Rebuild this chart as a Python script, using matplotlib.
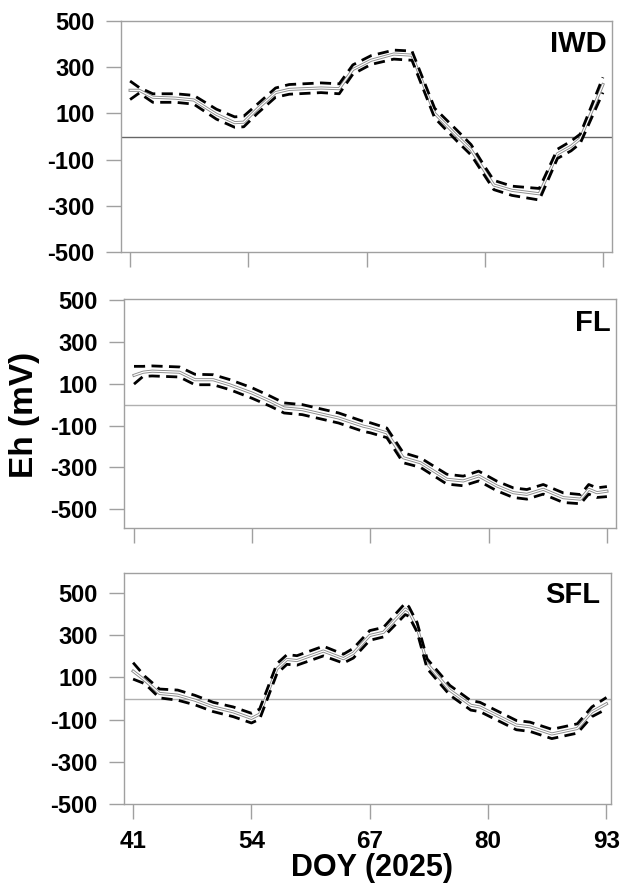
import matplotlib
matplotlib.use("Agg")
import matplotlib.pyplot as plt

plt.rcParams['font.family'] = ['Liberation Sans', 'DejaVu Sans']
plt.rcParams['font.weight'] = 'bold'

# IWD panel
iwd_day = [41, 42, 43.5, 46, 48, 50.5, 52.5, 53.5, 55, 57, 58.5, 62, 64, 65.5, 67.5,
           70, 72, 74.5, 77, 78.5, 80, 81, 83, 86, 88, 89.5, 90.5, 93]
iwd_mean = [200, 200, 170, 166, 158, 96, 60, 62, 120, 190, 204, 210, 207, 290, 330,
            357, 352, 100, 0, -57, -150, -210, -233, -248, -75, -42, -10, 225]
iwd_upper = [240, 212, 185, 185, 178, 118, 85, 88, 140, 210, 225, 232, 228, 310, 350,
             374, 370, 122, 25, -35, -130, -190, -215, -225, -55, -20, 10, 256]
iwd_lower = [160, 188, 148, 148, 140, 75, 40, 42, 100, 170, 183, 190, 185, 270, 312,
             335, 330, 80, -22, -80, -170, -230, -255, -275, -95, -62, -30, 190]

# FL panel
fl_day = [41, 42, 43, 46, 47.7, 49.7, 51.5, 54, 56, 57.5, 59.5, 63.5, 66.2, 67, 68.8,
          70.6, 72.5, 75.4, 77.2, 78.9, 80.9, 82.7, 84.2, 86, 88.2, 90.1, 91, 91.9, 93]
fl_mean = [140, 155, 160, 155, 119, 119, 95, 55, 16, -16, -24, -64, -103, -111, -135,
           -254, -278, -357, -365, -341, -389, -421, -429, -405, -445, -452, -405, -421, -414]
fl_upper = [183, 183, 185, 180, 145, 143, 120, 80, 40, 8, 0, -40, -80, -87, -112,
            -230, -255, -333, -342, -318, -366, -398, -406, -382, -422, -430, -382, -398, -392]
fl_lower = [98, 135, 137, 132, 95, 95, 72, 30, -8, -40, -48, -88, -128, -135, -158,
            -278, -300, -380, -388, -365, -412, -444, -452, -428, -468, -474, -428, -444, -440]

# SFL panel
sfl_day = [41, 42.3, 43.9, 45.9, 47.8, 49.8, 52, 54, 54.9, 56.8, 57.9, 59, 61.9, 64.1, 65.2,
           67, 68.5, 70.9, 71.3, 72.2, 73.3, 75.8, 78.1, 79.1, 83.1, 84.6, 87, 89.8, 91.4, 93]
sfl_mean = [130, 86, 24, 16, -8, -40, -63, -94, -74, 141, 185, 180, 225, 189, 215,
            299, 314, 424, 413, 338, 165, 39, -32, -40, -126, -134, -168, -142, -63, -25]
sfl_upper = [170, 105, 45, 40, 15, -18, -40, -70, -50, 165, 208, 203, 248, 210, 238,
             322, 337, 452, 435, 360, 188, 62, -10, -18, -104, -112, -146, -120, -40, 5]
sfl_lower = [92, 70, 3, -8, -30, -62, -86, -116, -98, 118, 162, 158, 202, 168, 192,
             276, 292, 398, 390, 315, 142, 16, -55, -62, -148, -156, -190, -164, -86, -50]

x_ticks = [41, 54, 67, 80, 93]
y_ticks = [-500, -300, -100, 100, 300, 500]

W, H = 622, 889
fig = plt.figure(figsize=(W / 100, H / 100), dpi=100)


def panel(box, xlim, ylim, day, mean, upper, lower, name, name_pos, zero_color):
    left, top, right, bottom = box  # in pixels
    ax = fig.add_axes([left / W, 1 - bottom / H, (right - left) / W, (bottom - top) / H])
    ax.axhline(0, color=zero_color, lw=1.0, zorder=1)
    ax.plot(day, mean, color='#8a8a8a', lw=2.2, zorder=2)
    ax.plot(day, mean, color='white', lw=0.9, zorder=3)
    ax.plot(day, upper, color='black', lw=2.0, dashes=(4, 2.3), zorder=4)
    ax.plot(day, lower, color='black', lw=2.0, dashes=(4, 2.3), zorder=4)
    ax.set_xlim(*xlim)
    ax.set_ylim(*ylim)
    ax.set_xticks(x_ticks)
    ax.set_yticks(y_ticks)
    ax.set_xticklabels([])
    ax.set_yticklabels([str(v) for v in y_ticks], fontsize=17, fontweight='bold')
    ax.tick_params(axis='both', direction='out', length=11, width=1, color='#a0a0a0', pad=8)
    for s in ax.spines.values():
        s.set_color('#a0a0a0')
        s.set_linewidth(1)
    ax.text(name_pos[0], name_pos[1], name, transform=ax.transAxes, ha='right', va='baseline',
            fontsize=21, fontweight='bold')
    return ax


panel((121, 21, 612, 252), (40, 94), (-500, 500), iwd_day, iwd_mean, iwd_upper, iwd_lower,
      'IWD', (0.99, 0.866), '#666666')
panel((124, 299, 616, 528), (39.9, 94), (-590, 505), fl_day, fl_mean, fl_upper, fl_lower,
      'FL', (0.99, 0.86), '#b0b0b0')
ax3 = panel((124, 573, 611, 804), (40, 93.5), (-500, 595), sfl_day, sfl_mean, sfl_upper, sfl_lower,
            'SFL', (0.979, 0.87), '#b0b0b0')
ax3.set_xticklabels([str(v) for v in x_ticks], fontsize=17.5, fontweight='bold')

fig.text(24 / W, 1 - 415 / H, 'Eh (mV)', rotation=90, ha='center', va='center',
         fontsize=24, fontweight='bold')
fig.text(372 / W, 1 - 868 / H, 'DOY (2025)', ha='center', va='center',
         fontsize=22, fontweight='bold')

fig.savefig('out.png', dpi=100)
